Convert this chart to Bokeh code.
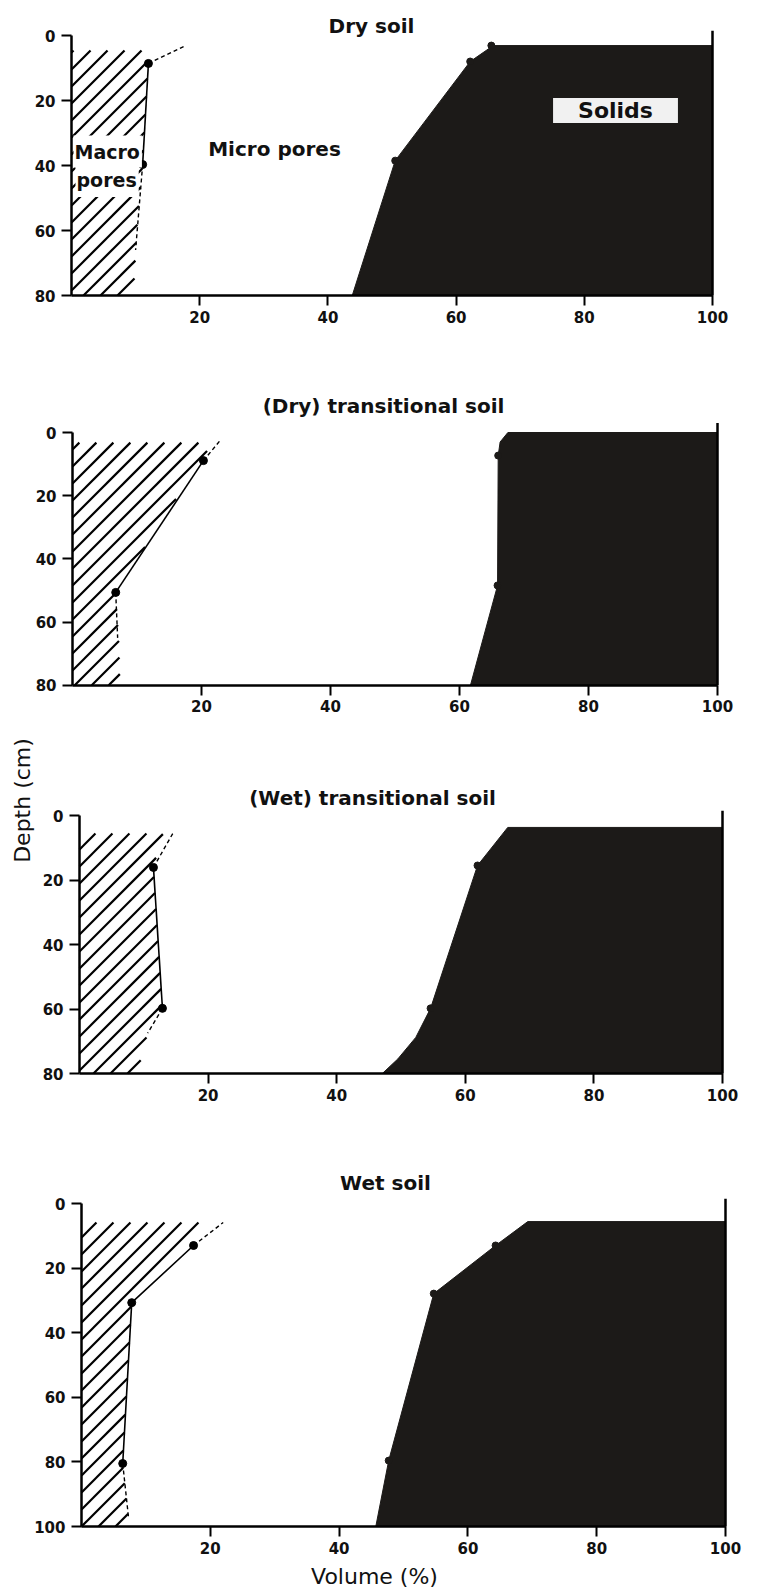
import math
import numpy as np
from bokeh.plotting import figure
from bokeh.models import Range1d, FixedTicker, Label, LinearAxis
from bokeh.layouts import column
from bokeh.embed import file_html
from bokeh.resources import INLINE

FONT = "DejaVu Sans"

# ---------------- data (volume %, depth cm) ----------------
panel_titles = ["Dry soil", "(Dry) transitional soil", "(Wet) transitional soil", "Wet soil"]
volume_ticks = [20, 40, 60, 80, 100]
depth_ticks = [[0, 20, 40, 60, 80], [0, 20, 40, 60, 80], [0, 20, 40, 60, 80], [0, 20, 40, 60, 80, 100]]
max_depth = [80, 80, 80, 100]
right_line_top = [-1.5, -3.0, -1.5, -1.5]

# Dry soil
dry_hatch_vol = [11.5, 12.0, 11.1, 10.2, 9.7]
dry_hatch_depth = [4.6, 8.6, 39.7, 60.0, 80.0]
dry_macro_vol = [12.0, 11.1]
dry_macro_depth = [8.6, 39.7]
dry_dash_top_vol = [12.0, 17.8]
dry_dash_top_depth = [8.6, 3.1]
dry_dash_bot_vol = [11.1, 10.0]
dry_dash_bot_depth = [39.7, 66.0]
dry_solid_vol = [65.8, 62.2, 50.5, 43.8]
dry_solid_depth = [3.1, 8.0, 38.5, 80.0]
dry_solid_pt_vol = [65.5, 62.2, 50.5]
dry_solid_pt_depth = [3.1, 8.0, 38.5]

# (Dry) transitional soil
dtr_hatch_vol = [21.7, 6.7, 7.2, 7.4]
dtr_hatch_depth = [3.2, 50.6, 65.0, 80.0]
dtr_macro_vol = [20.3, 6.7]
dtr_macro_depth = [8.9, 50.6]
dtr_dash_top_vol = [20.3, 22.9]
dtr_dash_top_depth = [8.9, 2.5]
dtr_dash_bot_vol = [6.7, 7.0]
dtr_dash_bot_depth = [50.6, 65.0]
dtr_solid_vol = [67.5, 66.3, 66.0, 65.9, 61.7]
dtr_solid_depth = [0.0, 3.0, 7.3, 48.4, 80.0]
dtr_solid_pt_vol = [66.0, 65.9]
dtr_solid_pt_depth = [7.3, 48.4]

# (Wet) transitional soil
wtr_hatch_vol = [13.0, 11.5, 12.9, 10.6, 9.0]
wtr_hatch_depth = [5.6, 16.1, 59.8, 67.5, 80.0]
wtr_macro_vol = [11.5, 12.9]
wtr_macro_depth = [16.1, 59.8]
wtr_dash_top_vol = [11.5, 14.5]
wtr_dash_top_depth = [16.1, 5.6]
wtr_dash_bot_vol = [12.9, 10.6]
wtr_dash_bot_depth = [59.8, 67.5]
wtr_solid_vol = [66.6, 61.9, 54.6, 52.3, 49.5, 47.1]
wtr_solid_depth = [3.7, 15.5, 59.8, 68.8, 75.5, 80.0]
wtr_solid_pt_vol = [61.9, 54.6]
wtr_solid_pt_depth = [15.5, 59.8]

# Wet soil
wet_hatch_vol = [18.9, 7.8, 6.4, 7.3, 7.3]
wet_hatch_depth = [5.9, 30.7, 80.5, 97.0, 100.0]
wet_macro_vol = [17.4, 7.8, 6.4]
wet_macro_depth = [13.0, 30.7, 80.5]
wet_dash_top_vol = [17.4, 22.0]
wet_dash_top_depth = [13.0, 5.9]
wet_dash_bot_vol = [6.4, 7.3]
wet_dash_bot_depth = [80.5, 97.2]
wet_solid_vol = [69.3, 64.3, 54.7, 47.7, 45.7]
wet_solid_depth = [5.6, 13.0, 27.9, 79.6, 100.0]
wet_solid_pt_vol = [64.3, 54.7, 47.7]
wet_solid_pt_depth = [13.0, 27.9, 79.6]

panels_data = [
    (dry_hatch_vol, dry_hatch_depth, dry_macro_vol, dry_macro_depth, dry_dash_top_vol, dry_dash_top_depth,
     dry_dash_bot_vol, dry_dash_bot_depth, dry_solid_vol, dry_solid_depth, dry_solid_pt_vol, dry_solid_pt_depth),
    (dtr_hatch_vol, dtr_hatch_depth, dtr_macro_vol, dtr_macro_depth, dtr_dash_top_vol, dtr_dash_top_depth,
     dtr_dash_bot_vol, dtr_dash_bot_depth, dtr_solid_vol, dtr_solid_depth, dtr_solid_pt_vol, dtr_solid_pt_depth),
    (wtr_hatch_vol, wtr_hatch_depth, wtr_macro_vol, wtr_macro_depth, wtr_dash_top_vol, wtr_dash_top_depth,
     wtr_dash_bot_vol, wtr_dash_bot_depth, wtr_solid_vol, wtr_solid_depth, wtr_solid_pt_vol, wtr_solid_pt_depth),
    (wet_hatch_vol, wet_hatch_depth, wet_macro_vol, wet_macro_depth, wet_dash_top_vol, wet_dash_top_depth,
     wet_dash_bot_vol, wet_dash_bot_depth, wet_solid_vol, wet_solid_depth, wet_solid_pt_vol, wet_solid_pt_depth),
]

# ---------------- layout / style (page pixels) ----------------
FIG_W = 757
# figure top, figure height, x of 0 %, px per %, y of depth 0, px per cm
geom = [
    (0, 380, 71, 6.41, 35, 3.25),
    (380, 348, 72, 6.45, 432, 3.16),
    (728, 432, 79, 6.43, 815, 3.225),
    (1160, 434, 81, 6.44, 1203, 3.23),
]
title_pos = [(371, 25), (383, 405), (372, 797), (385, 1182)]
SOLID_COLOR = "#1c1a18"
INK = "#111111"
HATCH_SPACING = 17


def to_data(i, px, py):
    top, h, x0, kx, y0, ky = geom[i]
    return (px - x0) / kx, (py - y0) / ky


def hatch_lines(i, edge_vol, edge_depth):
    """45 degree hatch lines clipped to the macro-pore region (0 .. edge)."""
    top, h, x0, kx, y0, ky = geom[i]
    d = np.linspace(edge_depth[0], edge_depth[-1], 3000)
    f = np.interp(d, edge_depth, edge_vol)
    ypx = y0 + d * ky
    fpx = x0 + f * kx
    cmin = x0 + ypx.min()
    cmax = (fpx + ypx).max()
    k0 = math.floor((cmin - (x0 + y0)) / HATCH_SPACING)
    xs, ys = [], []
    c = x0 + y0 + k0 * HATCH_SPACING
    while c <= cmax:
        xpx = c - ypx
        inside = (xpx >= x0) & (xpx <= fpx)
        idx = np.flatnonzero(inside)
        if idx.size:
            breaks = np.flatnonzero(np.diff(idx) > 1)
            starts = np.concatenate(([idx[0]], idx[breaks + 1]))
            ends = np.concatenate((idx[breaks], [idx[-1]]))
            for a, b in zip(starts, ends):
                if b > a:
                    xs.append([(xpx[a] - x0) / kx, (xpx[b] - x0) / kx])
                    ys.append([d[a], d[b]])
        c += HATCH_SPACING
    return xs, ys


figs = []
for i in range(4):
    (hv, hd, mv, md, tv, td, bv, bd, sv, sd, spv, spd) = panels_data[i]
    top, h, x0, kx, y0, ky = geom[i]
    dmax = max_depth[i]
    x_start, y_top = to_data(i, 0, top)
    x_end, y_bot = to_data(i, FIG_W, top + h)
    p = figure(width=FIG_W, height=h, x_range=Range1d(x_start, x_end), y_range=Range1d(y_bot, y_top),
               output_backend="svg", toolbar_location=None, x_axis_location=None, y_axis_location=None,
               min_border=0, min_border_left=0, min_border_right=0, min_border_top=0, min_border_bottom=0)
    p.xgrid.visible = False
    p.ygrid.visible = False
    p.outline_line_color = None
    p.background_fill_color = "white"
    p.border_fill_color = "white"

    # solids
    p.patch(sv + [100, 100], sd + [dmax, sd[0]], fill_color=SOLID_COLOR, line_color=SOLID_COLOR, line_width=1)
    p.scatter(spv, spd, size=7, color=SOLID_COLOR)

    # macro pores hatch
    hx, hy = hatch_lines(i, hv, hd)
    p.multi_line(hx, hy, line_color="black", line_width=2.2)

    # profile
    p.line(mv, md, line_color="black", line_width=1.6)
    p.line(tv, td, line_color="black", line_width=1.4, line_dash="4 3")
    p.line(bv, bd, line_color="black", line_width=1.4, line_dash="4 3")
    p.scatter(mv, md, size=8, color="black")

    # right frame line at 100 %
    p.segment(x0=[volume_ticks[-1]], y0=[right_line_top[i]], x1=[volume_ticks[-1]], y1=[dmax],
              line_color="black", line_width=2.5)

    # axes
    xa = LinearAxis(fixed_location=dmax, ticker=FixedTicker(ticks=volume_ticks), bounds=(0, 100))
    ya = LinearAxis(fixed_location=0, ticker=FixedTicker(ticks=depth_ticks[i]), bounds=(0, dmax))
    for ax in (xa, ya):
        ax.axis_line_width = 2.5
        ax.axis_line_color = "black"
        ax.major_tick_line_width = 2
        ax.major_tick_line_color = "black"
        ax.major_tick_in = 0
        ax.major_tick_out = 10
        ax.minor_tick_out = 0
        ax.minor_tick_in = 0
        ax.major_label_text_font = FONT
        ax.major_label_text_font_style = "bold"
        ax.major_label_text_font_size = "15px"
        ax.major_label_text_color = INK
    xa.major_label_standoff = 5
    ya.major_label_standoff = 6
    p.add_layout(xa, "below")
    p.add_layout(ya, "left")

    tx, ty = to_data(i, *title_pos[i])
    p.add_layout(Label(x=tx, y=ty, text=panel_titles[i], text_font=FONT, text_font_style="bold",
                       text_font_size="20px", text_align="center", text_baseline="middle",
                       text_color=INK))
    figs.append(p)

# annotations in first panel
p1 = figs[0]
x, y = to_data(0, 73, 151)
p1.add_layout(Label(x=x, y=y, text="Macro", text_font=FONT, text_font_style="bold",
                    text_font_size="19px", text_align="left", text_baseline="middle",
                    background_fill_color="white", padding=(1, 2, 5, 5), text_color=INK))
x, y = to_data(0, 75, 180)
p1.add_layout(Label(x=x, y=y, text="pores", text_font=FONT, text_font_style="bold",
                    text_font_size="19px", text_align="left", text_baseline="middle",
                    background_fill_color="white", padding=(1, 2, 5, 6), text_color=INK))
x, y = to_data(0, 274, 148)
p1.add_layout(Label(x=x, y=y, text="Micro pores", text_font=FONT, text_font_style="bold",
                    text_font_size="20px", text_align="center", text_baseline="middle",
                    text_color=INK))
x, y = to_data(0, 615, 110)
p1.add_layout(Label(x=x, y=y, text="Solids", text_font=FONT, text_font_style="bold",
                    text_font_size="22px", text_align="center", text_baseline="middle",
                    background_fill_color="#f1f1f1", padding=(25, 25, 0, 0), text_color=INK))

x, y = to_data(2, 22, 800)
figs[2].add_layout(Label(x=x, y=y, text="Depth (cm)", angle=math.pi / 2, text_font=FONT,
                         text_font_size="22px", text_align="center", text_baseline="middle",
                         text_color=INK))
x, y = to_data(3, 374, 1576)
figs[3].add_layout(Label(x=x, y=y, text="Volume (%)", text_font=FONT,
                         text_font_size="22px", text_align="center", text_baseline="middle",
                         text_color=INK))

layout = column(*figs, spacing=0)
open("out.html", "w").write(file_html(layout, INLINE))
